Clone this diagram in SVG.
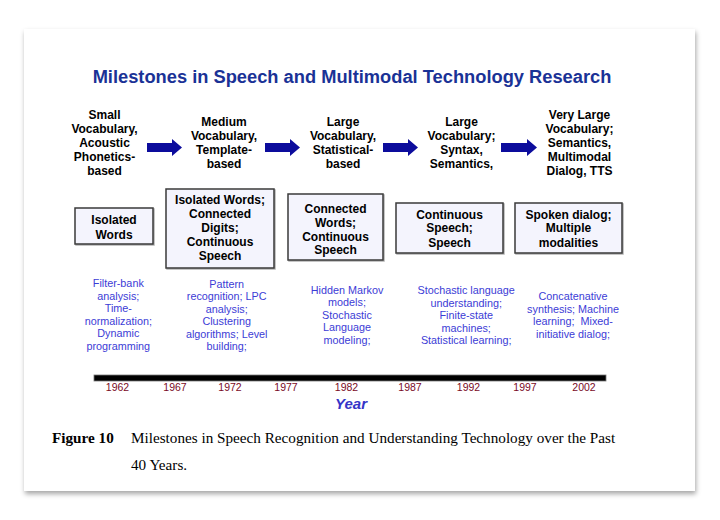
<svg xmlns="http://www.w3.org/2000/svg" width="720" height="520" viewBox="0 0 720 520">
  <defs>
    <filter id="shadow" x="-5%" y="-5%" width="110%" height="115%">
      <feDropShadow dx="1" dy="3" stdDeviation="2.5" flood-color="#000" flood-opacity="0.35"/>
    </filter>
    <filter id="boxshadow" x="-10%" y="-10%" width="125%" height="125%">
      <feDropShadow dx="1" dy="1" stdDeviation="0.6" flood-color="#000" flood-opacity="0.3"/>
    </filter>
  </defs>
  <style>
    .title { font-family: "Liberation Sans", Arial, sans-serif; font-weight: bold; font-size: 18.3px; fill: #1a3296; text-anchor: middle; }
    .hdr { font-family: "Liberation Sans", Arial, sans-serif; font-weight: bold; font-size: 12px; fill: #000; text-anchor: middle; }
    .box { fill: #f4f4fd; stroke: #3a3a3a; stroke-width: 1.5; filter: url(#boxshadow); }
    .btxt { font-family: "Liberation Sans", Arial, sans-serif; font-weight: bold; font-size: 12px; fill: #000; text-anchor: middle; }
    .tech { font-family: "Liberation Sans", Arial, sans-serif; font-size: 10.8px; fill: #3c3cd6; text-anchor: middle; }
    .yr { font-family: "Liberation Sans", Arial, sans-serif; font-size: 10.5px; fill: #7a0a26; text-anchor: middle; }
    .year { font-family: "Liberation Sans", Arial, sans-serif; font-weight: bold; font-style: italic; font-size: 15px; fill: #3535c8; text-anchor: middle; }
    .arrow { fill: #0c0c9c; }
    .cap { font-family: "Liberation Serif", "Times New Roman", serif; font-size: 15.2px; fill: #000; }
  </style>
  <rect x="0" y="0" width="720" height="520" fill="#fff"/>
  <rect x="24" y="29" width="671" height="462" fill="#fff" filter="url(#shadow)"/>

  <text class="title" x="352" y="83">Milestones in Speech and Multimodal Technology Research</text>

  <g id="hdr1">
    <text class="hdr"><tspan x="104.5" y="119">Small</tspan><tspan x="104.5" y="133">Vocabulary,</tspan><tspan x="104.5" y="147">Acoustic</tspan><tspan x="104.5" y="161">Phonetics-</tspan><tspan x="104.5" y="175">based</tspan></text>
  </g>
  <g id="hdr2">
    <text class="hdr"><tspan x="224" y="126">Medium</tspan><tspan x="224" y="140">Vocabulary,</tspan><tspan x="224" y="154">Template-</tspan><tspan x="224" y="168">based</tspan></text>
  </g>
  <g id="hdr3">
    <text class="hdr"><tspan x="343" y="126">Large</tspan><tspan x="343" y="140">Vocabulary,</tspan><tspan x="343" y="154">Statistical-</tspan><tspan x="343" y="168">based</tspan></text>
  </g>
  <g id="hdr4">
    <text class="hdr"><tspan x="461.5" y="126">Large</tspan><tspan x="461.5" y="140">Vocabulary;</tspan><tspan x="461.5" y="154">Syntax,</tspan><tspan x="461.5" y="168">Semantics,</tspan></text>
  </g>
  <g id="hdr5">
    <text class="hdr"><tspan x="579.5" y="119">Very Large</tspan><tspan x="579.5" y="133">Vocabulary;</tspan><tspan x="579.5" y="147">Semantics,</tspan><tspan x="579.5" y="161">Multimodal</tspan><tspan x="579.5" y="175">Dialog, TTS</tspan></text>
  </g>

  <g id="connectors">
    <polygon class="arrow" points="147,143 172,143 172,139 182,147.5 172,156 172,152 147,152"/>
    <polygon class="arrow" points="265,143 290,143 290,139 300,147.5 290,156 290,152 265,152"/>
    <polygon class="arrow" points="383,143 408,143 408,139 418,147.5 408,156 408,152 383,152"/>
    <polygon class="arrow" points="501,143 527,143 527,139 537,147.5 527,156 527,152 501,152"/>
  </g>

  <g id="box1">
    <rect class="box" x="75" y="208" width="78" height="36"/>
    <text class="btxt"><tspan x="114" y="224">Isolated</tspan><tspan x="114" y="239">Words</tspan></text>
  </g>
  <g id="box2">
    <rect class="box" x="166" y="189" width="108" height="79"/>
    <text class="btxt"><tspan x="220" y="204.3">Isolated Words;</tspan><tspan x="220" y="218.2">Connected</tspan><tspan x="220" y="232.1">Digits;</tspan><tspan x="220" y="246">Continuous</tspan><tspan x="220" y="260">Speech</tspan></text>
  </g>
  <g id="box3">
    <rect class="box" x="288" y="194" width="95" height="66"/>
    <text class="btxt"><tspan x="335.5" y="213.3">Connected</tspan><tspan x="335.5" y="227">Words;</tspan><tspan x="335.5" y="240.7">Continuous</tspan><tspan x="335.5" y="254.3">Speech</tspan></text>
  </g>
  <g id="box4">
    <rect class="box" x="396" y="203" width="107" height="50"/>
    <text class="btxt"><tspan x="449.5" y="218.6">Continuous</tspan><tspan x="449.5" y="232.3">Speech;</tspan><tspan x="449.5" y="246.6">Speech</tspan></text>
  </g>
  <g id="box5">
    <rect class="box" x="515" y="203" width="107" height="50"/>
    <text class="btxt"><tspan x="568.5" y="218.6">Spoken dialog;</tspan><tspan x="568.5" y="232.3">Multiple</tspan><tspan x="568.5" y="246.6">modalities</tspan></text>
  </g>

  <g id="tech1">
    <text class="tech"><tspan x="118.3" y="287">Filter-bank</tspan><tspan x="118.3" y="299.6">analysis;</tspan><tspan x="118.3" y="312.2">Time-</tspan><tspan x="118.3" y="324.8">normalization;</tspan><tspan x="118.3" y="337.4">Dynamic</tspan><tspan x="118.3" y="350">programming</tspan></text>
  </g>
  <g id="tech2">
    <text class="tech"><tspan x="226.7" y="288">Pattern</tspan><tspan x="226.7" y="300.4">recognition; LPC</tspan><tspan x="226.7" y="312.8">analysis;</tspan><tspan x="226.7" y="325.2">Clustering</tspan><tspan x="226.7" y="337.6">algorithms; Level</tspan><tspan x="226.7" y="350">building;</tspan></text>
  </g>
  <g id="tech3">
    <text class="tech"><tspan x="347" y="293.8">Hidden Markov</tspan><tspan x="347" y="306.3">models;</tspan><tspan x="347" y="318.8">Stochastic</tspan><tspan x="347" y="331.3">Language</tspan><tspan x="347" y="343.8">modeling;</tspan></text>
  </g>
  <g id="tech4">
    <text class="tech"><tspan x="466.2" y="294">Stochastic language</tspan><tspan x="466.2" y="306.5">understanding;</tspan><tspan x="466.2" y="319">Finite-state</tspan><tspan x="466.2" y="331.5">machines;</tspan><tspan x="466.2" y="344">Statistical learning;</tspan></text>
  </g>
  <g id="tech5">
    <text class="tech" xml:space="preserve"><tspan x="573" y="300">Concatenative</tspan><tspan x="573" y="312.7">synthesis; Machine</tspan><tspan x="573" y="325.4">learning;  Mixed-</tspan><tspan x="573" y="338">initiative dialog;</tspan></text>
  </g>

  <g id="timeline">
    <rect x="94" y="375" width="512" height="6" fill="#000" stroke="#777" stroke-width="0.8"/>
    <text class="yr" x="117.5" y="391">1962</text>
    <text class="yr" x="175" y="391">1967</text>
    <text class="yr" x="230" y="391">1972</text>
    <text class="yr" x="286" y="391">1977</text>
    <text class="yr" x="346.5" y="391">1982</text>
    <text class="yr" x="410" y="391">1987</text>
    <text class="yr" x="468.5" y="391">1992</text>
    <text class="yr" x="525" y="391">1997</text>
    <text class="yr" x="584" y="391">2002</text>
    <text class="year" x="351" y="408.5">Year</text>
  </g>

  <g id="caption">
    <text class="cap" x="52" y="443" font-weight="bold">Figure 10</text>
    <text class="cap" x="131" y="443">Milestones in Speech Recognition and Understanding Technology over the Past</text>
    <text class="cap" x="131" y="470">40 Years.</text>
  </g>
</svg>
